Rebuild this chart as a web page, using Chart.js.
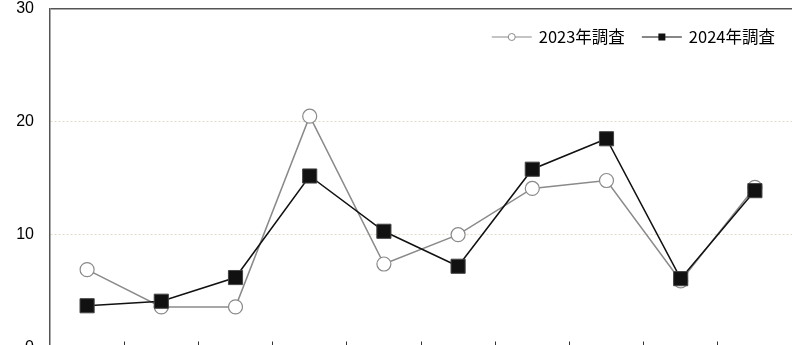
<!DOCTYPE html>
<html>
<head>
<meta charset="utf-8">
<script src="https://cdn.jsdelivr.net/npm/chart.js@4/dist/chart.umd.min.js"></script>
<style>
  html, body { margin: 0; padding: 0; background: #fff; overflow: hidden; }
  #wrap { width: 792px; height: 362px; }
</style>
</head>
<body>
<div id="wrap"><canvas id="myChart" width="792" height="362"></canvas></div>
<script>
// Data (x labels are cut off in the original)
const categories = ['1', '2', '3', '4', '5', '6', '7', '8', '9', '10'];
const survey2023 = [6.9, 3.6, 3.6, 20.5, 7.4, 10.0, 14.1, 14.8, 5.9, 14.2];
const survey2024 = [3.7, 4.1, 6.2, 15.2, 10.3, 7.2, 15.8, 18.5, 6.1, 13.9];
const seriesNames = ['2023年調査', '2024年調査'];
const yTicks = [0, 10, 20, 30];

// Legend with line + marker, like the original
const lineLegend = {
  id: 'lineLegend',
  afterDraw(chart) {
    const ctx = chart.ctx;
    const y = 37;
    const lineLen = 40;
    ctx.save();
    ctx.font = '16.5px "Noto Sans CJK JP", "Noto Sans", sans-serif';
    ctx.textBaseline = 'middle';
    ctx.textAlign = 'left';
    let x = 775;
    const items = chart.data.datasets.slice().reverse();
    items.forEach(ds => {
      const w = ctx.measureText(ds.label).width;
      x -= w;
      ctx.fillStyle = '#000';
      ctx.fillText(ds.label, x, y);
      x -= 7;
      const x0 = x - lineLen;
      ctx.strokeStyle = ds.borderColor;
      ctx.lineWidth = 1.2;
      ctx.beginPath();
      ctx.moveTo(x0, y);
      ctx.lineTo(x, y);
      ctx.stroke();
      const cx = (x0 + x) / 2;
      if (ds.pointStyle === 'rect') {
        ctx.fillStyle = ds.pointBackgroundColor;
        ctx.fillRect(cx - 3.5, y - 3.5, 7, 7);
      } else {
        ctx.fillStyle = '#fff';
        ctx.beginPath();
        ctx.arc(cx, y, 3.5, 0, Math.PI * 2);
        ctx.fill();
        ctx.strokeStyle = ds.pointBorderColor;
        ctx.lineWidth = 1;
        ctx.stroke();
      }
      x = x0 - 17;
    });
    ctx.restore();
  }
};

const data = {
  labels: categories,
  datasets: [
    {
      label: seriesNames[0],
      data: survey2023,
      borderColor: '#8a8a8a',
      borderWidth: 1.5,
      pointStyle: 'circle',
      pointRadius: 7,
      pointBackgroundColor: '#fff',
      pointBorderColor: '#8a8a8a',
      pointBorderWidth: 1.2,
      order: 2
    },
    {
      label: seriesNames[1],
      data: survey2024,
      borderColor: '#111',
      borderWidth: 1.5,
      pointStyle: 'rect',
      pointRadius: 10,
      pointBackgroundColor: '#111',
      pointBorderColor: '#444',
      pointBorderWidth: 1,
      order: 1
    }
  ]
};

const noPad = s => {
  s.paddingTop = 0; s.paddingBottom = 0; s.paddingLeft = 0; s.paddingRight = 0;
};

const config = {
  type: 'line',
  data: data,
  options: {
    responsive: false,
    animation: false,
    layout: { autoPadding: false, padding: { top: 9, right: 0, bottom: 14.5, left: 0 } },
    plugins: {
      legend: { display: false },
      tooltip: { enabled: false }
    },
    scales: {
      x: {
        offset: true,
        ticks: { display: false },
        grid: {
          offset: true,
          drawOnChartArea: false,
          drawTicks: true,
          tickLength: -6,
          tickColor: '#333',
          tickWidth: 1
        },
        border: { color: '#555', width: 1.5 },
        afterFit: s => { s.height = 0; noPad(s); }
      },
      y: {
        min: yTicks[0],
        max: yTicks[yTicks.length - 1],
        afterBuildTicks: s => { s.ticks = yTicks.map(v => ({ value: v })); },
        ticks: {
          padding: 16,
          color: '#000',
          font: { family: '"Liberation Sans", Arial, sans-serif', size: 16 }
        },
        grid: {
          drawTicks: false,
          color: c => c.tick && c.tick.value === 30 ? '#555' : '#e0dbc8',
          lineWidth: c => c.tick && c.tick.value === 30 ? 1.5 : 1
        },
        border: {
          color: '#555',
          width: 1.5,
          dash: c => c.tick && c.tick.value === 30 ? [] : [2, 2]
        },
        afterFit: s => { s.width = 50; noPad(s); }
      }
    }
  },
  plugins: [lineLegend]
};

new Chart(document.getElementById('myChart'), config);
</script>
</body>
</html>
